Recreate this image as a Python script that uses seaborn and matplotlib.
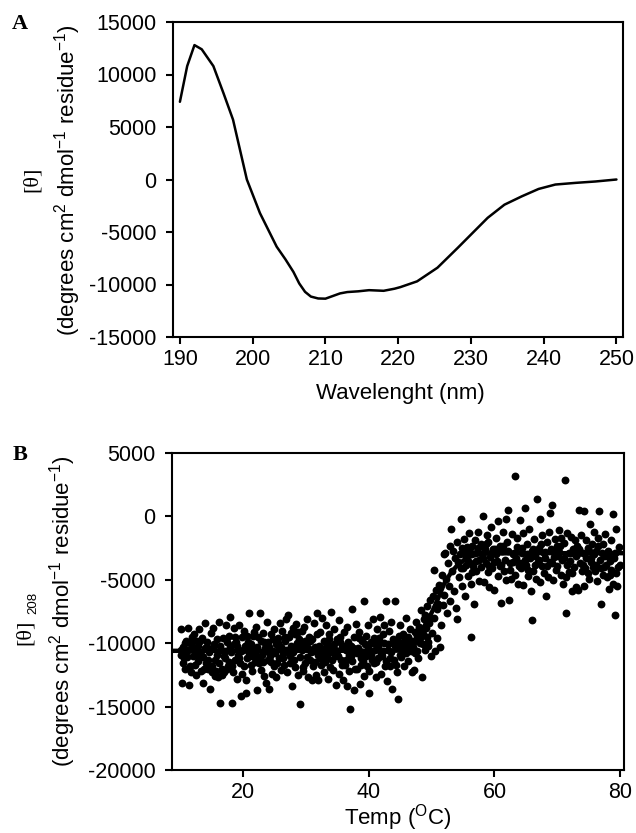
import matplotlib
matplotlib.use("Agg")
import matplotlib.pyplot as plt
import seaborn as sns
import pandas as pd

# ---------------- Panel A: CD spectrum ----------------
wavelength = [190, 191, 192, 193, 194.6, 195.3, 196, 197.3, 199.2, 201, 203.3, 204.5, 205.6,
              206.4, 207.2, 208, 209, 210, 211, 212, 213, 214.5, 216, 218, 219.5, 220.3,
              222.6, 225.4, 228.2, 230.5, 232.3, 234.6, 237, 239.3, 241.6, 244.4, 247.1, 250]
ellipticity = [7400, 10800, 12800, 12400, 10800, 9500, 8200, 5700, 0, -3200, -6400, -7600,
               -8800, -9900, -10700, -11150, -11330, -11350, -11100, -10850, -10720, -10650,
               -10540, -10600, -10400, -10250, -9700, -8400, -6500, -4900, -3650, -2400,
               -1600, -900, -480, -320, -190, 0]

# ---------------- Panel B: thermal melt at 208 nm ----------------
temp_b = [
    10.1, 10.2, 10.3, 10.4, 10.6, 10.7, 10.9,
    11.0, 11.2, 11.3, 11.4, 11.6, 11.7, 11.9,
    12.0, 12.2, 12.3, 12.5, 12.6, 12.8, 12.9,
    13.0, 13.1, 13.3, 13.4, 13.6, 13.7, 13.9,
    14.0, 14.1, 14.3, 14.5, 14.6, 14.8, 14.9,
    15.0, 15.2, 15.3, 15.5, 15.6, 15.8, 15.9,
    16.0, 16.2, 16.3, 16.4, 16.6, 16.8, 16.9,
    17.0, 17.2, 17.3, 17.5, 17.7, 17.8, 17.9,
    18.0, 18.2, 18.3, 18.5, 18.6, 18.8, 18.9,
    19.0, 19.2, 19.3, 19.5, 19.6, 19.8, 19.9,
    20.0, 20.2, 20.4, 20.5, 20.7, 20.8, 20.9,
    21.0, 21.2, 21.3, 21.5, 21.6, 21.8, 21.9,
    22.0, 22.2, 22.3, 22.5, 22.7, 22.8, 22.9,
    23.0, 23.2, 23.3, 23.5, 23.6, 23.8, 23.9,
    24.0, 24.2, 24.3, 24.5, 24.6, 24.8, 24.9,
    25.0, 25.2, 25.3, 25.5, 25.7, 25.8, 25.9,
    26.0, 26.2, 26.3, 26.5, 26.6, 26.8, 26.9,
    27.0, 27.2, 27.3, 27.5, 27.7, 27.8, 27.9,
    28.0, 28.2, 28.3, 28.5, 28.6, 28.8, 28.9,
    29.0, 29.1, 29.3, 29.4, 29.6, 29.7, 29.9,
    30.0, 30.2, 30.3, 30.5, 30.6, 30.8, 30.9,
    31.0, 31.2, 31.3, 31.5, 31.6, 31.8, 31.9,
    32.0, 32.2, 32.3, 32.5, 32.6, 32.8, 32.9,
    33.0, 33.2, 33.3, 33.5, 33.6, 33.8, 33.9,
    34.0, 34.2, 34.3, 34.5, 34.6, 34.8, 34.9,
    35.0, 35.2, 35.3, 35.5, 35.6, 35.8, 35.9,
    36.0, 36.2, 36.3, 36.5, 36.6, 36.8, 36.9,
    37.0, 37.1, 37.3, 37.4, 37.6, 37.7, 37.9,
    38.0, 38.2, 38.3, 38.5, 38.6, 38.8, 38.9,
    39.0, 39.2, 39.3, 39.5, 39.6, 39.8, 39.9,
    40.0, 40.1, 40.3, 40.4, 40.6, 40.8, 40.9,
    41.0, 41.2, 41.3, 41.5, 41.6, 41.8, 41.9,
    42.0, 42.2, 42.3, 42.5, 42.7, 42.8, 42.9,
    43.0, 43.2, 43.3, 43.5, 43.6, 43.7, 43.9,
    44.0, 44.2, 44.3, 44.5, 44.7, 44.8, 44.9,
    45.0, 45.2, 45.3, 45.5, 45.6, 45.8, 45.9,
    46.0, 46.2, 46.3, 46.5, 46.6, 46.8, 46.9,
    47.0, 47.2, 47.3, 47.5, 47.6, 47.8, 47.9,
    48.0, 48.2, 48.3, 48.5, 48.6, 48.8, 48.9,
    49.0, 49.2, 49.3, 49.5, 49.6, 49.8, 49.9,
    50.0, 50.2, 50.3, 50.4, 50.5, 50.7, 50.8, 50.9,
    51.0, 51.2, 51.3, 51.5, 51.6, 51.8, 51.9,
    52.0, 52.2, 52.3, 52.5, 52.6, 52.8, 52.9,
    53.0, 53.1, 53.3, 53.4, 53.6, 53.7, 53.9,
    54.0, 54.1, 54.3, 54.5, 54.6, 54.8, 54.9,
    55.0, 55.2, 55.3, 55.5, 55.6, 55.8, 55.9,
    56.0, 56.2, 56.3, 56.5, 56.6, 56.7, 56.9,
    57.0, 57.2, 57.3, 57.5, 57.6, 57.8, 57.9,
    58.0, 58.1, 58.3, 58.5, 58.6, 58.8, 58.9,
    59.0, 59.2, 59.3, 59.5, 59.6, 59.8, 59.9,
    60.0, 60.2, 60.3, 60.5, 60.6, 60.8, 60.9,
    61.0, 61.2, 61.3, 61.5, 61.6, 61.8, 61.9,
    62.0, 62.2, 62.3, 62.5, 62.6, 62.8, 62.9,
    63.0, 63.2, 63.3, 63.5, 63.6, 63.8, 63.9,
    64.0, 64.2, 64.3, 64.5, 64.6, 64.8, 64.9,
    65.0, 65.2, 65.3, 65.5, 65.6, 65.8, 65.9,
    66.0, 66.2, 66.3, 66.5, 66.6, 66.8, 66.9,
    67.0, 67.2, 67.3, 67.5, 67.6, 67.8, 67.9,
    68.0, 68.2, 68.3, 68.5, 68.6, 68.8, 68.9,
    69.0, 69.2, 69.3, 69.5, 69.6, 69.8, 69.9,
    70.0, 70.2, 70.3, 70.5, 70.6, 70.8, 70.9,
    71.0, 71.2, 71.3, 71.5, 71.6, 71.8, 71.9,
    72.0, 72.2, 72.3, 72.5, 72.6, 72.8, 72.9,
    73.0, 73.2, 73.3, 73.5, 73.6, 73.8, 73.9,
    74.0, 74.2, 74.3, 74.5, 74.6, 74.8, 74.9,
    75.0, 75.2, 75.3, 75.5, 75.6, 75.8, 75.9,
    76.0, 76.2, 76.3, 76.5, 76.6, 76.8, 76.9,
    77.0, 77.2, 77.3, 77.5, 77.6, 77.8, 77.9,
    78.0, 78.2, 78.3, 78.5, 78.6, 78.8, 78.9,
    79.0, 79.2, 79.3, 79.5, 79.6, 79.8, 79.9,
    # denser core of the folded baseline
    10.15, 10.45, 10.75, 11.1, 11.5, 11.8, 12.1, 12.4, 12.7, 13.2, 13.5, 13.8,
    14.2, 14.4, 14.7, 15.1, 15.4, 15.7, 16.1, 16.5, 16.7, 17.1, 17.4, 17.6,
    18.1, 18.4, 18.7, 19.1, 19.4, 19.7, 20.1, 20.3, 20.6, 21.1, 21.4, 21.7,
    22.1, 22.4, 22.6, 23.1, 23.4, 23.7, 24.1, 24.4, 24.7, 25.1, 25.4, 25.6,
    26.1, 26.4, 26.7, 27.1, 27.4, 27.6, 28.1, 28.4, 28.7, 29.2, 29.5, 29.8,
    30.1, 30.4, 30.7, 31.1, 31.4, 31.7, 32.1, 32.4, 32.7, 33.1, 33.4, 33.7,
    34.1, 34.4, 34.7, 35.1, 35.4, 35.7, 36.1, 36.4, 36.7, 37.2, 37.5, 37.8,
    38.1, 38.4, 38.7, 39.1, 39.4, 39.7, 40.2, 40.5, 40.7, 41.1, 41.4, 41.7,
    42.1, 42.4, 42.6, 43.1, 43.4, 43.8, 44.1, 44.4, 44.6, 45.1, 45.4, 45.7,
    46.1, 46.4, 46.7, 47.1, 47.4, 47.7, 48.1, 48.4, 48.7, 49.1, 49.4, 49.7,
    # denser core of the unfolded baseline
    54.2, 54.7, 55.1, 55.4, 56.1, 56.4, 57.1, 57.4, 58.2, 58.7, 59.1, 59.4,
    60.1, 60.4, 61.1, 61.4, 62.1, 62.4, 63.1, 63.4, 64.1, 64.4, 65.1, 65.4,
    66.1, 66.4, 67.1, 67.4, 68.1, 68.4, 69.1, 69.4, 70.1, 70.4, 71.1, 71.4,
    72.1, 72.4, 73.1, 73.4, 74.1, 74.4, 75.1, 75.4, 76.1, 76.4, 77.1, 77.4,
    78.1, 78.4, 79.1, 79.4,
]
theta_b = [
    -8900, -10900, -13100, -10300, -11200, -12000, -9800,
    -10700, -8800, -10500, -13300, -11800, -10100, -9500,
    -11000, -9300, -10600, -12500, -9800, -11400, -10200,
    -8900, -10800, -12200, -9600, -11100, -13100, -10400,
    -8400, -11600, -9900, -12000, -10700, -13600, -9200,
    -12300, -10400, -8800, -12600, -11300, -9700, -10900,
    -12700, -8300, -10200, -14700, -12500, -9600, -11000,
    -12300, -10600, -8600, -12000, -9400, -11500, -10300,
    -7900, -14700, -11800, -10100, -8800, -11300, -9900,
    -12800, -10900, -8600, -11600, -14200, -9500, -12400,
    -10500, -9000, -12900, -13900, -11200, -9900, -10800,
    -7600, -11700, -10100, -12200, -9400, -10700, -11500,
    -8700, -13700, -10300, -11600, -7600, -9800, -12100,
    -10900, -9200, -12600, -10400, -13100, -8300, -11300,
    -9900, -13600, -11000, -9300, -12400, -10600, -8900,
    -11800, -10100, -12700, -9600, -11200, -10400, -8400,
    -12100, -9000, -10800, -11700, -9800, -8100, -10500,
    -12300, -7800, -9500, -11000, -10200, -13400, -8800,
    -10700, -9300, -11900, -8500, -10000, -12500, -9700,
    -14800, -11100, -9000, -10500, -12200, -8700, -11600,
    -10200, -8100, -12700, -9500, -11300, -10700, -12900,
    -9700, -11800, -8400, -10300, -12500, -7600, -10900,
    -12900, -9100, -11200, -8000, -10500, -12300, -9800,
    -11500, -8600, -10100, -12800, -9300, -10700, -11900,
    -7500, -10400, -12100, -8900, -11000, -13300, -9700,
    -10600, -8200, -12400, -9900, -11300, -10300, -12900,
    -9100, -11700, -10500, -13400, -8700, -10900, -12200,
    -15200, -10200, -7300, -11400, -9500, -13700, -10700,
    -8500, -12000, -10400, -9100, -13200, -11200, -9800,
    -10700, -6700, -12600, -9400, -11000, -8600, -10300,
    -12200, -13900, -9900, -10900, -8100, -11600, -9600,
    -10500, -12700, -8900, -11200, -9900, -7900, -10800,
    -12400, -9300, -10600, -8600, -6700, -11400, -13000,
    -10100, -9000, -11800, -8300, -10700, -13600, -9700,
    -11300, -6700, -10400, -12300, -14400, -9400, -10900,
    -8600, -11100, -10000, -9300, -11800, -10500, -8000,
    -10800, -9500, -11400, -10100, -8900, -12300, -9800,
    -10300, -12100, -9100, -8300, -10600, -9600, -11200,
    -8700, -10000, -7400, -12700, -9300, -8100, -10500,
    -7800, -9500, -7100, -10200, -8400, -6600, -11000,
    -9200, -6300, -4200, -8000, -10600, -5800, -7300, -9600,
    -6900, -5400, -10300, -8600, -4600, -7000, -3000,
    -6200, -2900, -4900, -7600, -3700, -5500, -2300,
    -6700, -1000, -4300, -2700, -5900, -3300, -7200,
    -2000, -8100, -4800, -3000, -200, -5500, -2500,
    -4100, -1800, -6300, -3300, -2400, -4700, -1300,
    -3600, -5300, -9500, -2300, -3900, -6900, -1900,
    -4300, -2800, -1200, -5100, -3400, -2200, -4000,
    -3000, 0, -5200, -2600, -3700, -1500, -4400,
    -2000, -5600, -3200, -800, -4100, -2600, -3600,
    -5800, -1700, -3000, -4700, -400, -2300, -3900,
    -6800, -2700, -1200, -4300, -3400, -200, -5000,
    -2000, 500, -6600, -3700, -4900, -1400, -3000,
    -3600, 3200, -4600, -2400, -1700, -5300, -3900,
    -300, -4100, -2900, -1300, -5400, -3400, 700,
    -3800, -2200, -4700, -1000, -3300, -5900, -2700,
    -8200, -4300, -1800, -3100, -4900, 1400, -3600,
    -2500, -5200, -200, -3900, -1500, -4500, -2900,
    -3300, -6300, -2000, -4800, -1200, -3600, 300,
    -2600, 900, -5000, -3200, -1800, -4200, -2300,
    -3900, -1100, -2800, -4600, -1700, -3400, -5300,
    -2100, 2900, -7600, -3800, -1300, -2900, -4400,
    -3500, -1600, -5900, -2600, -4000, -1900, -3100,
    -5600, -2300, -5800, 500, -3700, -1500, -4300,
    -2900, -5500, 400, -3300, -1900, -4500, -2500,
    -4900, -600, -3600, -2200, -4000, -1200, -3000,
    -4300, -2700, -5100, -1700, 400, -3400, -4100,
    -6900, -2200, -4600, -3100, -1400, -3800, -4800,
    -2700, -5700, -3500, -1900, -4200, -5300, 200,
    -3300, -7800, -1000, -5500, -4000, -2400, -3800,
    # denser core of the folded baseline
    -10500, -11600, -10000, -11100, -9900, -12300, -10400, -11700, -10900, -9800, -11000, -12000,
    -10300, -11300, -11900, -11800, -10100, -12200, -11600, -10500, -12000, -11200, -9900, -11800,
    -10700, -12300, -9500, -10200, -11200, -10600, -11800, -10200, -9400, -10400, -11000, -9100,
    -10900, -9500, -11200, -11500, -9900, -10600, -10300, -11500, -9700, -10800, -11600, -10000,
    -10300, -11200, -9500, -10700, -11600, -9200, -11300, -10400, -9100, -10100, -11900, -9800,
    -11100, -10400, -9800, -10600, -11500, -9300, -10200, -11700, -10800, -10400, -11100, -9700,
    -11300, -10100, -10500, -11000, -9500, -11700, -10200, -11300, -9900, -11000, -10400, -12000,
    -10800, -9600, -11700, -11400, -10100, -11800, -10600, -11300, -10000, -11500, -10300, -9600,
    -11000, -10000, -11800, -10500, -11200, -10000, -10200, -11700, -9900, -10300, -10800, -9700,
    -10300, -9900, -10600, -9900, -10800, -9400, -9600, -9000, -10100, -8800, -9900, -8000,
    # denser core of the unfolded baseline
    -3600, -4100, -2900, -3800, -2800, -4400, -3500, -2500, -3300, -2200, -3900, -2900,
    -2600, -3500, -3800, -2300, -2700, -4200, -2900, -3300, -3700, -2500, -3000, -4200,
    -2600, -3800, -3400, -2200, -2800, -3900, -3700, -2700, -3100, -2300, -3300, -4800,
    -2900, -4500, -3000, -2600, -3800, -4100, -2700, -3300, -3800, -2300, -2900, -4000,
    -3100, -4600, -2900, -4500,
]

# fitted two-state curve
fit_temp = [8.7, 20, 30, 40, 45, 46, 47, 48, 49, 50, 51, 52, 53, 54, 55, 56, 57, 58, 60, 65, 70, 80.6]
fit_theta = [-10600, -10600, -10600, -10600, -10580, -10550, -10300, -9500, -8500, -7600, -6500,
             -5300, -4500, -3900, -3500, -3200, -3050, -2950, -2920, -2900, -2900, -2900]

df_a = pd.DataFrame({"wavelength": wavelength, "theta": ellipticity})
df_b = pd.DataFrame({"temp": temp_b, "theta": theta_b})
df_fit = pd.DataFrame({"temp": fit_temp, "theta": fit_theta})

sns.set_style("ticks")
plt.rcParams["font.family"] = ["Liberation Sans", "DejaVu Sans"]
plt.rcParams["axes.unicode_minus"] = False
plt.rcParams["text.color"] = "black"
plt.rcParams["axes.labelcolor"] = "black"
plt.rcParams["xtick.color"] = "black"
plt.rcParams["ytick.color"] = "black"
plt.rcParams["mathtext.fontset"] = "custom"
plt.rcParams["mathtext.rm"] = "Liberation Sans"
plt.rcParams["mathtext.it"] = "Liberation Sans:italic"
plt.rcParams["mathtext.bf"] = "Liberation Sans:bold"

W, H = 636, 833
fig = plt.figure(figsize=(W / 100, H / 100), dpi=100)
axA = fig.add_axes([173 / W, 1 - 337 / H, 450 / W, 315 / H])
axB = fig.add_axes([172 / W, 1 - 770 / H, 452 / W, 317 / H])

FS_TICK = 15.5
FS_LAB = 16

sns.lineplot(data=df_a, x="wavelength", y="theta", ax=axA, color="black", linewidth=1.8)
sns.scatterplot(data=df_b, x="temp", y="theta", ax=axB, color="black", s=32, linewidth=0, zorder=3)
sns.lineplot(data=df_fit, x="temp", y="theta", ax=axB, color="black", linewidth=3.2, zorder=4)

axA.set_xlim(189.05, 250.9)
axA.set_ylim(-15000, 15000)
axA.set_xticks([190, 200, 210, 220, 230, 240, 250])
axA.set_yticks([-15000, -10000, -5000, 0, 5000, 10000, 15000])

axB.set_xlim(8.7, 80.6)
axB.set_ylim(-20000, 5000)
axB.set_xticks([20, 40, 60, 80])
axB.set_yticks([-20000, -15000, -10000, -5000, 0, 5000])

for ax in (axA, axB):
    ax.set_xlabel("")
    ax.set_ylabel("")
    for sp in ax.spines.values():
        sp.set_visible(True)
        sp.set_linewidth(1.5)
        sp.set_color("black")
    ax.tick_params(direction="out", length=5, width=1.5, labelsize=FS_TICK,
                   top=False, right=False, colors="black")
    ax.tick_params(axis="x", pad=4)
    ax.tick_params(axis="y", pad=7)

# panel letters
fig.text(20 / W, 1 - 24 / H, "A", family=["Liberation Serif"], weight="bold", fontsize=16,
         ha="center", va="center", color="black")
fig.text(20 / W, 1 - 455 / H, "B", family=["Liberation Serif"], weight="bold", fontsize=16,
         ha="center", va="center", color="black")

# y labels
unit = r"(degrees cm$^{2}$ dmol$^{-1}$ residue$^{-1}$)"
fig.text(32 / W, 1 - 179 / H, "[\u03b8]", family=["Liberation Serif"], fontsize=FS_LAB,
         rotation=90, ha="center", va="center", color="black")
fig.text(68 / W, 1 - 180 / H, unit, fontsize=FS_LAB, rotation=90, ha="center", va="center",
         color="black")

fig.text(25 / W, 1 - 632 / H, "[\u03b8]", family=["Liberation Serif"], fontsize=FS_LAB,
         rotation=90, ha="center", va="center", color="black")
fig.text(33 / W, 1 - 603 / H, "208", fontsize=9.5, rotation=90, ha="center", va="center",
         color="black")
fig.text(63 / W, 1 - 611 / H, unit, fontsize=FS_LAB, rotation=90, ha="center", va="center",
         color="black")

# x labels
fig.text(400 / W, 1 - 393 / H, "Wavelenght (nm)", fontsize=FS_LAB, ha="center", va="center",
         color="black")
fig.text(398 / W, 1 - 818 / H, r"Temp ($^{\mathrm{O}}$C)", fontsize=FS_LAB, ha="center",
         va="center", color="black")

fig.savefig("out.png", dpi=100, facecolor="white")
